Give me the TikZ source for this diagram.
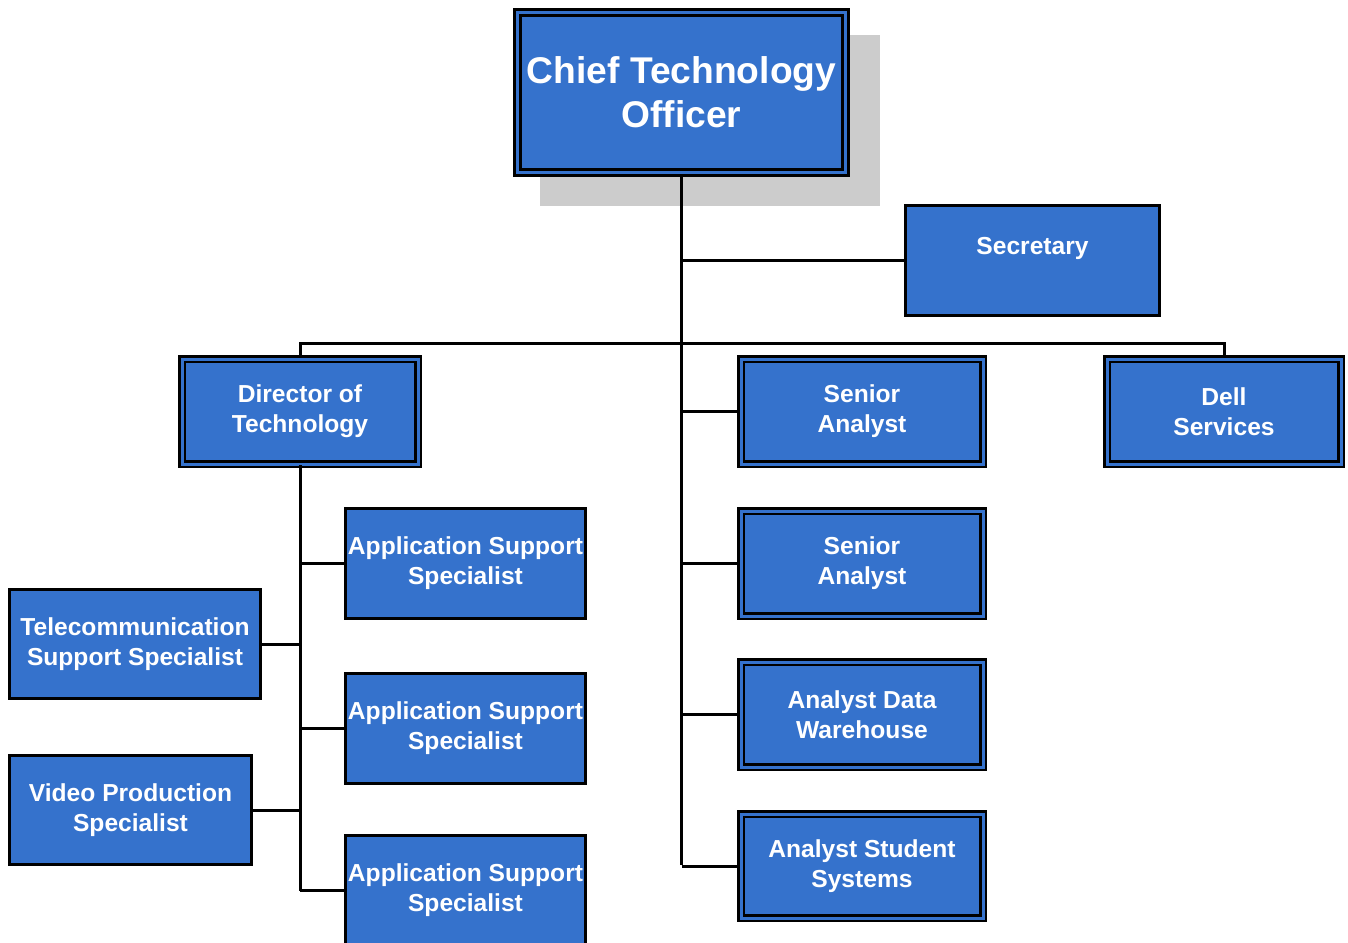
\documentclass[tikz,border=0pt]{standalone}
\usepackage{fontspec}
\setmainfont{Liberation Sans}
\definecolor{cblue}{RGB}{53,114,204}
\definecolor{shadowgray}{RGB}{204,204,204}
\tikzset{
  x=0.5pt, y=-0.5pt,
  box/.style={draw=black, line width=1.3pt, fill=cblue, text=white, align=center, inner sep=0pt,
    font=\bfseries\fontsize{12.3}{15}\selectfont},
  dbox/.style={box, line width=1.2pt, double=cblue, double distance=1.5pt},
  conn/.style={draw=black, line width=1.5pt}
}
\begin{document}
\begin{tikzpicture}
\clip (0,0) rectangle (1348,942);
\useasboundingbox (0,0) rectangle (1348,942);
% shadow of CTO
\fill[shadowgray] (540,35) rectangle (880,206);
% nodes
\node[dbox, line width=1.5pt, minimum width=164pt, minimum height=80pt,
  font=\bfseries\fontsize{18.6}{22}\selectfont] (cto) at (681.5,92.5) {Chief Technology\\Officer};
\node[box, minimum width=127pt, minimum height=55pt] (sec) at (1032.5,260.5) {Secretary\\\mbox{}};
\node[dbox, minimum width=118pt, minimum height=52.5pt] (dir) at (300,411.5) {Director of\\Technology};
\node[dbox, minimum width=121pt, minimum height=52.5pt] (sa1) at (862,411.5) {Senior\\Analyst};
\node[dbox, minimum width=117pt, minimum height=52.5pt] (dell) at (1224,411.5) {Dell\\Services};
\node[dbox, minimum width=121pt, minimum height=52.5pt] (sa2) at (862,563.5) {Senior\\Analyst};
\node[dbox, minimum width=121pt, minimum height=52.5pt] (adw) at (862,714.5) {Analyst Data\\Warehouse};
\node[dbox, minimum width=121pt, minimum height=52pt] (ass) at (862,866) {Analyst Student\\Systems};
\node[box, minimum width=120pt, minimum height=55pt] (app1) at (465.5,563.5) {Application Support\\Specialist};
\node[box, minimum width=120pt, minimum height=55pt] (app2) at (465.5,728.5) {Application Support\\Specialist};
\node[box, minimum width=120pt, minimum height=55pt] (app3) at (465.5,890.5) {Application Support\\Specialist};
\node[box, minimum width=125.7pt, minimum height=54.7pt] (tel) at (135,644) {Telecommunication\\Support Specialist};
\node[box, minimum width=121.2pt, minimum height=54.7pt] (vid) at (130.5,810) {Video Production\\Specialist};
% connectors
\coordinate (trunkend) at (682,865);
\draw[conn] (cto.south) -- (cto.south |- trunkend);
\draw[conn] (cto.south |- sec.west) -- (sec.west);
\draw[conn] (dir.north) -- ++(0,-14) -| (dell.north);
\draw[conn] (cto.south |- sa1.west) -- (sa1.west);
\draw[conn] (cto.south |- sa2.west) -- (sa2.west);
\draw[conn] (cto.south |- adw.west) -- (adw.west);
\draw[conn] (cto.south |- ass.west) -- (ass.west);
\draw[conn] (dir.south) -- (dir.south |- app3.west);
\draw[conn] (dir.south |- app1.west) -- (app1.west);
\draw[conn] (dir.south |- app2.west) -- (app2.west);
\draw[conn] (dir.south |- app3.west) -- (app3.west);
\draw[conn] (tel.east) -- (tel.east -| dir.south);
\draw[conn] (vid.east) -- (vid.east -| dir.south);
\end{tikzpicture}
\end{document}
